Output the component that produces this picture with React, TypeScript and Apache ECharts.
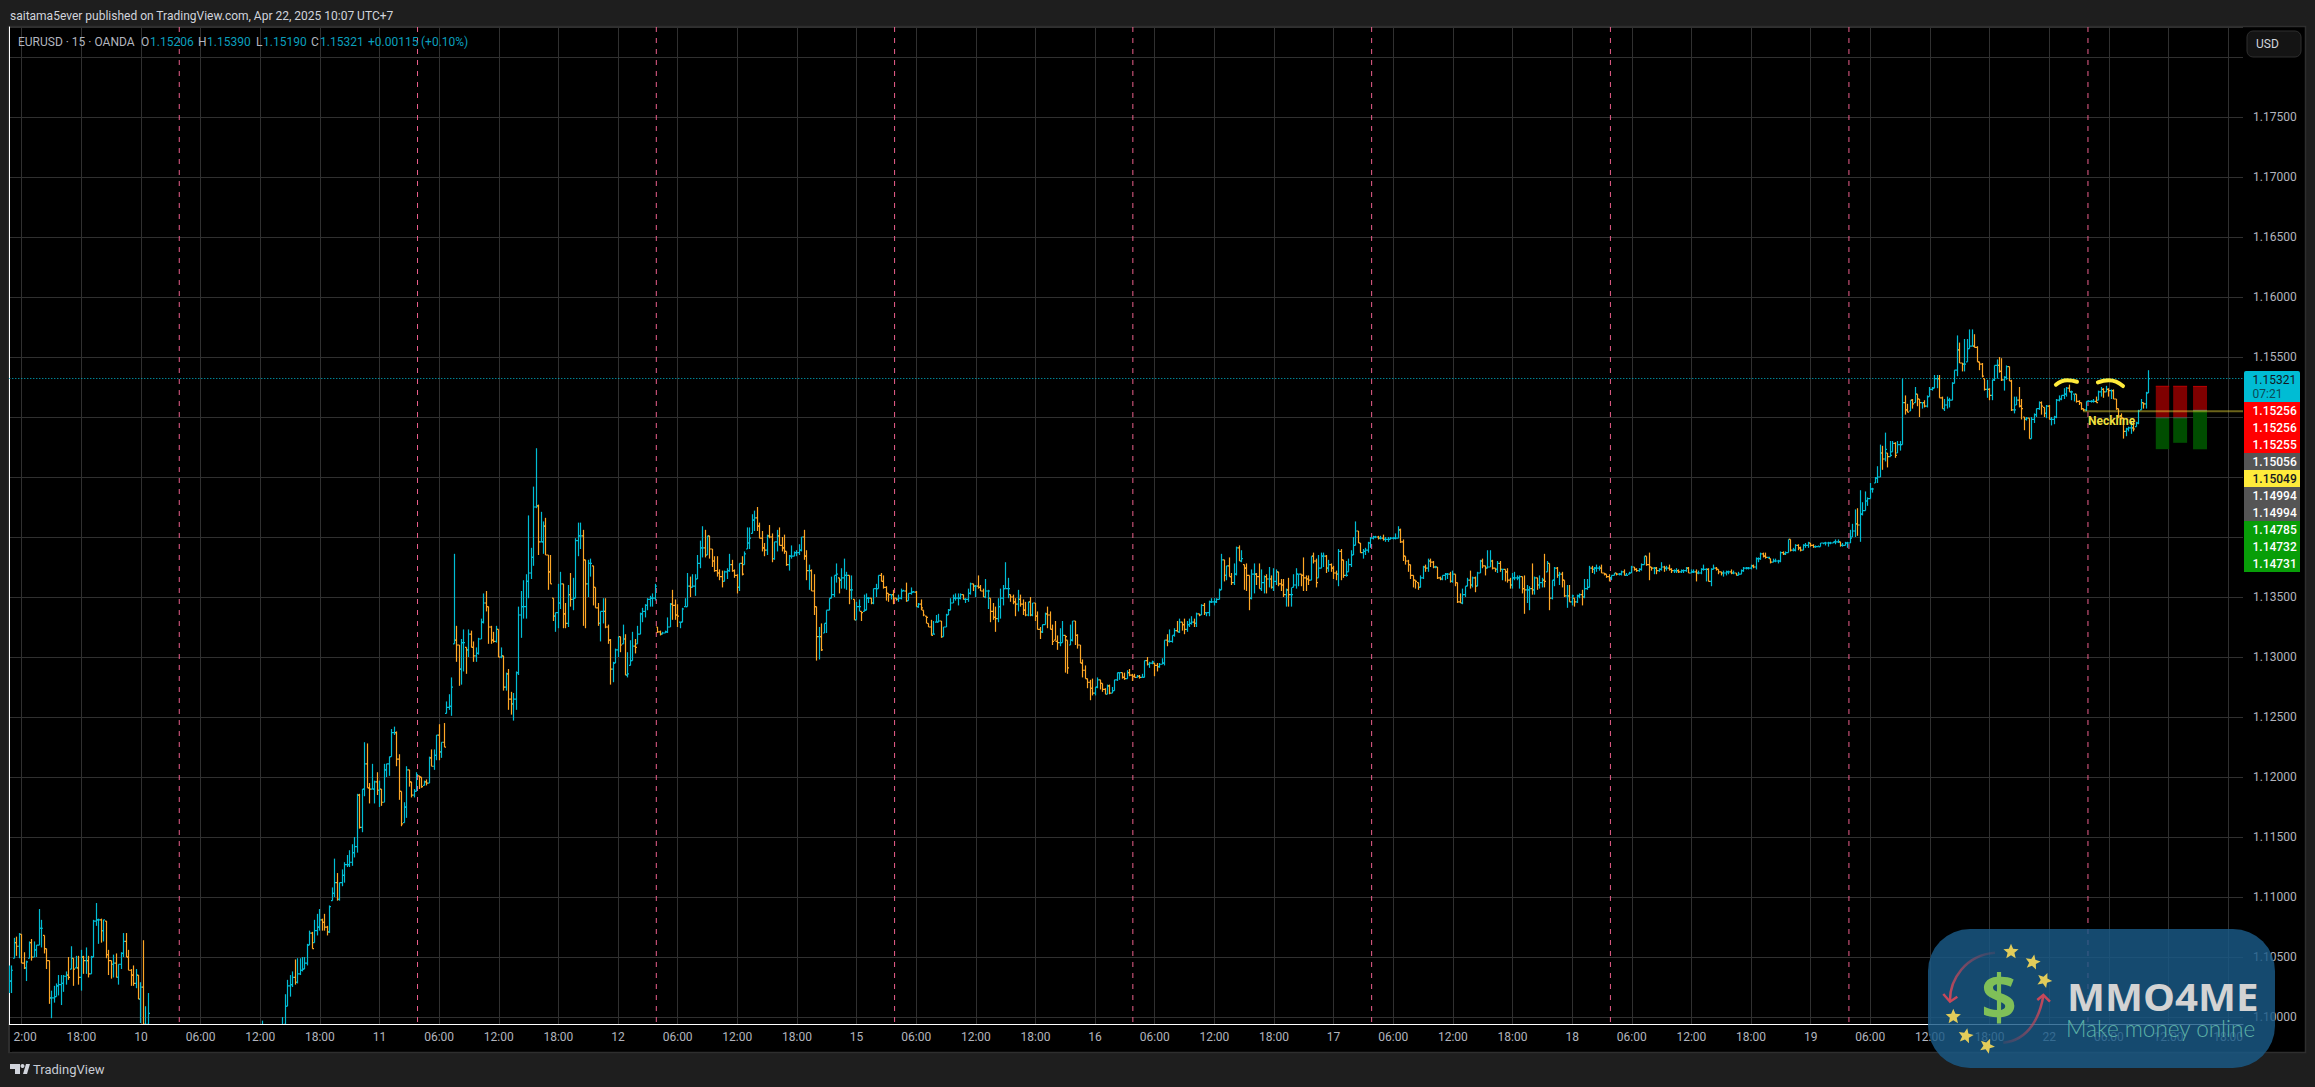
import React, { useEffect, useRef } from "react";
import * as echarts from "echarts";

// Prices are stored in pips above PIP_BASE. Bars are 15-minute OHLC.
const PIP_BASE = 1.1;
const N_CATS = 900;
const FIRST_TICK = 5;
const TICK_STEP = 24;

const tickLabels = ["12:00","18:00","10","06:00","12:00","18:00","11","06:00","12:00","18:00","12","06:00","12:00","18:00","15","06:00","12:00","18:00","16","06:00","12:00","18:00","17","06:00","12:00","18:00","18","06:00","12:00","18:00","19","06:00","12:00","18:00","22","06:00","12:00","18:00"];

// y-axis ticks whose labels are entirely hidden by the price tags or the USD button
const hiddenPriceLabels = ["1.18000", "1.15000", "1.14500", "1.14000"];

const sessionBreaks = [68.4, 164.3, 260.4, 356.3, 452.2, 548.3, 644.4, 740.4, 836.6];

const OFF_A = Array(45).fill(null); // bars below the visible pane
const OFF_B = Array(7).fill(null);

const highs = [
43,43,66,67,70,69,54,47,63,65,
63,60,90,81,68,57,47,22,26,28,
35,35,35,38,50,59,49,51,51,56,
51,58,51,51,81,95,82,82,81,80,
56,47,52,53,44,54,70,70,56,40,
43,40,35,29,64,9,20,
...OFF_A,-3,...OFF_B,0,
19,31,35,38,48,49,49,50,50,61,
72,71,81,86,90,82,86,76,93,
108,132,120,112,123,129,135,139,144,150,
186,186,190,229,228,195,211,197,204,197,
190,211,211,217,240,242,238,219,188,179,
209,206,196,190,204,201,200,197,198,217,
223,223,235,244,229,245,
263,269,283,386,326,310,315,323,308,323,
322,313,308,316,332,353,355,342,326,321,
326,323,308,301,287,290,271,270,288,342,
355,364,369,418,391,442,474,427,421,413,
416,385,385,349,337,361,371,361,345,360,
370,366,399,412,412,406,381,381,382,376,
358,345,338,349,349,327,315,296,307,317,
317,327,319,304,314,321,315,326,337,341,
344,349,351,353,361,325,322,321,322,333,
345,356,348,344,329,341,349,370,367,369,
369,385,397,409,406,401,401,390,384,384,
373,372,372,374,386,381,373,369,378,
384,388,408,408,419,422,425,412,405,395,
402,410,403,396,406,408,400,402,388,385,
393,388,389,394,400,406,389,377,373,369,
342,325,328,328,339,349,367,368,378,366,
374,382,371,368,368,348,346,348,338,352,
353,350,349,357,361,368,370,368,359,353,
352,356,349,352,357,356,362,353,358,355,
355,345,348,339,334,328,331,330,335,336,
330,325,336,340,349,352,353,353,353,352,
349,357,362,361,360,368,360,357,365,356,
349,345,342,349,357,360,379,366,352,352,
349,356,352,348,346,346,350,345,345,338,
325,327,337,342,338,327,330,318,324,330,
318,314,327,330,330,319,310,298,293,282,
281,282,275,283,281,278,274,277,277,275,
281,287,287,287,287,289,290,286,286,285,
285,286,297,300,296,297,295,295,295,299,
314,319,323,318,324,330,332,329,332,330,
332,334,332,337,336,344,345,337,347,349,
349,349,357,386,381,376,383,370,378,392,
393,389,377,378,368,373,378,370,378,373,
368,369,375,368,374,373,371,365,365,357,
366,358,369,374,369,369,383,368,368,384,
387,382,385,387,387,385,381,378,376,372,
390,390,381,380,382,389,400,413,405,395,
390,391,396,400,401,401,401,401,402,400,
400,400,400,403,409,407,398,384,381,377,
368,364,362,368,376,377,382,382,380,376,
375,367,368,370,370,371,372,369,362,353,
357,359,366,372,367,367,371,381,382,376,
389,389,381,374,380,380,373,373,374,366,
370,371,368,368,367,368,360,359,378,367,
366,368,366,386,380,378,364,375,375,371,
371,364,360,360,352,349,352,353,356,365,
365,376,376,375,377,376,377,370,369,369,
368,370,370,370,372,373,370,371,376,375,
374,374,378,384,384,387,375,375,375,374,
379,376,376,377,374,373,374,373,373,373,
375,375,373,373,373,372,374,377,374,374,
374,377,375,373,371,372,372,372,373,372,
370,371,373,375,375,375,377,377,383,383,
387,387,387,383,382,382,382,381,388,388,
388,398,398,391,394,394,392,394,395,396,
395,394,393,393,395,395,396,396,396,396,
398,398,396,395,396,396,
406,411,423,424,439,429,438,433,445,441,
450,459,477,476,487,470,480,480,479,480,
480,532,518,511,514,515,525,519,515,512,
514,518,525,525,535,535,535,517,515,517,
516,529,539,568,562,545,565,565,573,573,
569,559,546,545,532,531,524,531,543,548,
550,549,534,543,542,531,517,517,525,515,
500,500,499,500,503,507,513,513,508,510,
510,500,501,515,518,518,524,525,527,522,
519,519,514,512,507,513,514,514,515,517,
522,525,524,526,524,523,523,515,507,503,
499,491,492,496,496,496,506,515,512,521,539,
];

const lows = [
20,20,49,51,49,45,40,30,49,47,
50,50,60,58,53,40,11,-1,12,17,
18,10,21,27,31,40,26,41,27,22,
36,36,33,36,50,76,61,62,63,49,
35,32,33,33,27,40,50,50,39,26,
26,24,15,-5,-6,-6,-7,
...OFF_A,-30,...OFF_B,-25,
-6,9,17,25,27,28,35,38,40,43,
60,57,62,68,72,72,72,68,70,
97,100,97,97,109,112,125,125,126,133,
137,157,154,184,191,178,190,178,185,175,
176,179,200,201,217,235,209,181,159,162,
166,192,183,183,188,190,191,193,193,195,
209,206,214,214,216,225,
253,256,251,311,296,276,277,288,286,300,
308,296,296,302,315,328,338,311,311,312,
312,300,299,272,272,256,252,247,256,285,
316,332,332,349,365,376,424,385,396,386,
385,356,361,330,321,324,340,324,324,325,
342,339,349,384,390,326,324,350,367,343,
341,326,313,328,324,311,277,279,295,300,
304,311,285,283,293,297,303,311,319,329,
333,339,342,342,347,320,318,319,320,320,
325,331,331,325,324,329,342,342,350,358,
351,365,374,383,383,385,382,375,371,367,
364,358,363,365,371,371,366,353,355,
368,377,390,390,403,405,405,399,388,384,
385,399,379,381,388,393,388,386,376,372,
382,384,384,385,388,381,364,356,355,335,
297,298,305,320,320,339,349,350,362,353,
357,357,356,344,348,331,331,338,330,338,
339,345,344,344,350,357,363,357,347,346,
348,344,347,346,348,355,346,347,352,354,
342,341,339,334,328,325,318,319,329,329,
316,317,325,335,339,345,347,343,348,348,
345,346,352,355,350,357,355,350,349,340,
329,331,321,329,332,343,357,349,346,344,
334,338,342,335,334,334,334,334,330,323,
315,320,327,324,323,310,314,306,309,312,
287,286,310,313,310,307,295,283,282,274,
264,268,268,274,273,271,269,269,269,270,
272,280,281,282,281,282,284,280,283,283,
282,283,283,293,291,294,284,288,291,294,
293,309,312,312,317,321,320,322,319,321,
325,327,325,325,334,335,335,334,334,345,
343,345,348,356,363,364,367,360,360,368,
380,379,356,355,339,348,353,360,357,355,
353,353,358,357,355,360,359,355,350,342,
342,342,358,357,359,359,355,355,360,364,
378,358,366,374,375,370,371,371,365,364,
359,364,366,367,371,375,385,393,395,387,
382,385,387,391,398,399,398,398,397,396,
396,398,398,398,399,395,380,377,371,365,
358,357,356,358,365,371,371,375,374,374,
365,364,364,364,365,362,362,359,345,345,
344,350,359,357,358,354,359,370,374,368,
374,375,373,371,370,371,364,363,362,357,
357,364,364,357,353,336,345,339,352,352,
356,357,358,358,371,339,348,359,366,360,
358,350,341,346,343,342,345,349,343,349,
356,358,370,369,371,372,370,368,366,363,
364,368,368,368,368,368,368,369,370,372,
371,371,372,377,376,364,372,369,369,371,
372,371,372,372,370,370,370,370,370,370,
371,370,370,370,363,369,369,372,363,363,
359,373,372,369,368,367,368,369,369,369,
368,368,369,371,373,373,373,374,373,379,
381,383,382,382,378,379,379,378,379,385,
385,387,388,388,388,389,388,389,391,391,
392,391,391,392,392,394,393,392,394,395,
394,395,392,392,393,391,
395,400,400,401,396,418,422,426,432,437,
445,445,450,456,463,458,467,471,466,470,
472,477,502,504,505,507,512,509,500,507,
508,508,517,522,524,524,516,507,505,507,
508,514,528,534,545,538,538,546,557,559,
558,546,539,533,522,516,514,514,530,532,
537,530,522,531,530,505,503,510,508,498,
489,497,482,482,495,500,506,502,500,499,
498,493,494,499,513,514,515,517,521,514,
513,512,510,506,505,505,513,512,512,512,
514,517,516,521,517,515,515,506,499,498,
482,484,488,486,488,492,494,506,507,507,520,
];

const closes = [
30,39,62,59,69,45,41,46,62,50,
56,60,74,74,57,47,16,16,17,26,
27,28,34,35,33,49,40,41,33,50,
47,47,36,50,80,81,81,72,81,52,
47,44,45,33,44,53,63,50,39,35,
28,35,15,25,-6,-6,3,
...OFF_A,-12,...OFF_B,-8,
9,26,27,33,29,36,39,40,45,60,
70,57,72,75,81,79,75,71,92,
103,112,98,112,118,127,127,129,137,142,
185,158,190,211,191,190,190,196,189,190,
179,206,211,217,237,237,215,188,161,175,
206,196,185,188,202,200,192,196,195,216,
209,218,235,221,229,225,
258,259,275,314,310,290,312,312,306,319,
308,301,303,315,329,345,342,325,314,313,
323,300,301,275,286,265,261,265,287,335,
342,342,363,370,383,425,426,396,396,409,
385,371,361,334,337,345,361,336,328,352,
348,349,397,401,401,381,361,378,378,358,
341,328,338,338,325,314,290,295,306,317,
310,315,285,286,297,309,308,319,336,338,
343,348,349,349,359,321,319,320,321,325,
344,343,335,334,329,340,342,359,358,359,
365,378,391,391,385,401,390,380,372,370,
367,363,371,372,377,372,368,358,378,
369,386,395,399,414,416,409,399,391,389,
401,400,382,396,401,393,391,388,377,384,
384,387,387,389,400,384,372,372,355,342,
317,317,306,328,339,349,352,368,369,364,
366,368,368,356,356,331,342,342,337,339,
349,349,345,357,357,368,363,358,353,352,
352,349,348,349,355,355,347,353,354,354,
342,344,341,335,333,325,318,319,329,330,
317,325,335,339,345,349,349,349,352,348,
348,353,361,359,359,358,355,350,355,355,
338,333,332,342,349,357,357,357,350,346,
344,348,344,339,335,346,335,345,334,323,
321,327,336,335,323,313,313,312,312,318,
317,291,314,330,318,310,295,289,282,279,
274,270,275,281,278,273,269,276,270,272,
281,287,287,283,282,287,285,284,283,284,
283,283,297,294,295,296,293,292,294,295,
314,313,313,318,322,321,329,327,323,327,
328,329,328,336,335,343,337,337,346,346,
346,348,356,381,368,376,367,362,369,391,
380,382,374,368,349,369,369,367,357,362,
367,365,365,358,363,371,361,360,352,356,
352,352,360,369,369,368,366,365,364,384,
380,362,374,384,384,374,377,374,370,369,
388,381,368,368,377,385,393,405,395,387,
388,389,395,399,400,400,399,399,398,398,
398,399,399,399,406,396,384,380,377,368,
364,363,358,366,375,374,380,379,375,375,
366,365,368,369,369,363,369,362,346,345,
352,359,364,360,366,359,370,380,376,374,
375,380,374,373,378,373,373,371,364,360,
366,366,366,367,357,356,356,357,356,366,
360,362,364,363,378,349,364,374,368,369,
364,351,351,346,351,346,351,352,350,357,
358,374,373,374,374,374,370,369,367,366,
368,370,369,369,371,368,368,370,375,373,
372,373,377,384,377,375,374,374,372,373,
375,374,374,373,372,372,372,371,372,372,
374,370,371,371,370,370,373,373,373,363,
373,374,373,371,370,370,371,371,370,370,
368,369,372,374,374,374,376,375,382,382,
386,384,383,383,379,380,380,380,387,386,
387,398,389,389,393,391,389,393,393,395,
393,392,392,392,395,395,395,395,395,396,
396,396,393,393,395,395,
399,405,411,410,419,422,430,432,440,440,
449,450,470,465,473,467,468,478,468,477,
477,512,506,504,514,511,519,515,512,512,
509,517,523,524,532,532,516,507,510,514,
514,528,539,556,545,544,544,557,559,559,
558,546,544,534,523,523,518,531,543,543,
538,531,533,542,530,506,506,514,509,507,
498,499,482,498,502,507,512,509,503,509,
498,498,500,514,515,518,519,524,521,521,
519,513,512,507,506,513,513,513,513,512,
521,523,521,523,522,522,515,507,500,499,
488,490,491,491,490,495,505,512,511,520,532,
];

const lastPrice = 1.15321;
const necklinePrice = 1.15049;
const necklineStart = 834.6;
const arcLeft = [[823.7, 1.15269], [828.2, 1.15306], [832.2, 1.15294]];
const arcRight = [[840.6, 1.15289], [845, 1.15306], [850.7, 1.15258]];

const boxStart = [863.9, 870.9, 878.9];
const boxEnd = [869.3, 876.5, 884.5];
const boxTop = [1.15256, 1.15256, 1.15255];
const boxMid = [1.14994, 1.14994, 1.15056];
const boxBottom = [1.14732, 1.14785, 1.14731];

const tagTexts = ["1.15256", "1.15256", "1.15255", "1.15056", "1.15049", "1.14994", "1.14994", "1.14785", "1.14732", "1.14731"];
const tagFills = ["#ff0000", "#ff0000", "#ff0000", "#555555", "#ffeb3b", "#555555", "#555555", "#089e08", "#089e08", "#089e08"];
const tagInks = ["#ffffff", "#ffffff", "#ffffff", "#ffffff", "#131722", "#ffffff", "#ffffff", "#ffffff", "#ffffff", "#ffffff"];

const legendItems: [string, number, string][] = [
  ["EURUSD · 15 · OANDA", 18, "#b2b5be"],
  ["O", 141, "#b2b5be"], ["1.15206", 150, "#0a9fbd"],
  ["H", 198, "#b2b5be"], ["1.15390", 207, "#0a9fbd"],
  ["L", 256, "#b2b5be"], ["1.15190", 263, "#0a9fbd"],
  ["C", 311, "#b2b5be"], ["1.15321", 320, "#0a9fbd"],
  ["+0.00115", 368, "#0a9fbd"], ["(+0.10%)", 421, "#0a9fbd"],
];

const stars = [[2011, 951.7], [2032.7, 962.3], [2044.3, 980.3], [1953.3, 1016.7], [1965.7, 1036], [1987, 1046]];

const CYAN = "#00bcd4";
const ORANGE = "#ffa726";
const FONT = "Roboto";
const price = (v: number) => PIP_BASE + v / 10000;

function starPoints(cx: number, cy: number, r: number, rot: number) {
  const pts: number[][] = [];
  for (let k = 0; k < 10; k++) {
    const a = rot + (k * Math.PI) / 5 - Math.PI / 2;
    const q = k % 2 === 0 ? r : r * 0.45;
    pts.push([cx + q * Math.cos(a), cy + q * Math.sin(a)]);
  }
  return pts;
}

function buildOption() {
  const categories = Array.from({ length: N_CATS }, (_, i) => {
    const k = (i - FIRST_TICK) / TICK_STEP;
    return Number.isInteger(k) && tickLabels[k] ? tickLabels[k] : "";
  });
  const isTick = (i: number) => i >= FIRST_TICK && (i - FIRST_TICK) % TICK_STEP === 0;

  const barData: number[][] = [];
  closes.forEach((c, i) => {
    if (c === null || c === undefined) return;
    const prev = closes[i - 1];
    const h = highs[i];
    const l = lows[i];
    const o = prev === null || prev === undefined ? c : Math.min(h, Math.max(l, prev));
    barData.push([i, price(o), price(h), price(l), price(c)]);
  });

  const red = "#7f0000";
  const green = "#004d00";

  const graphicEls: any[] = [
    { type: "rect", z: -10, shape: { x: 8.5, y: 26.5, width: 2297, height: 1026 }, style: { fill: "#000", stroke: "#2e2e2e", lineWidth: 1.5 } },
    { type: "rect", z: 90, shape: { x: 0, y: 1024, width: 8, height: 30 }, style: { fill: "#1e1e1e" } },
    { type: "rect", z: 90, shape: { x: 8, y: 1025, width: 4, height: 27 }, style: { fill: "#000" } },
    { type: "rect", z: 91, shape: { x: 8, y: 1025, width: 2, height: 27 }, style: { fill: "#2e2e2e" } },
    { type: "text", z: 100, x: 10, y: 16, style: { text: "saitama5ever published on TradingView.com, Apr 22, 2025 10:07 UTC+7", fill: "#d1d4dc", font: `12px ${FONT}`, textVerticalAlign: "middle" } },
    { type: "rect", z: 96, shape: { x: 2247, y: 31, width: 54, height: 26, r: 6 }, style: { fill: "#141414", stroke: "#2e2e2e", lineWidth: 1 } },
    { type: "text", z: 100, x: 2256, y: 44, style: { text: "USD", fill: "#d1d4dc", font: `12px ${FONT}`, textVerticalAlign: "middle" } },
    { type: "rect", z: 97, shape: { x: 2244, y: 371, width: 56, height: 31, r: [2, 2, 0, 0] }, style: { fill: "#00bcd4" } },
    { type: "text", z: 100, x: 2252.5, y: 379.5, style: { text: "1.15321", fill: "#131722", font: `12px ${FONT}`, textVerticalAlign: "middle" } },
    { type: "text", z: 100, x: 2252.5, y: 393.5, style: { text: "07:21", fill: "#0b4a57", font: `12px ${FONT}`, textVerticalAlign: "middle" } },
  ];

  legendItems.forEach(([text, x, fill]) => {
    graphicEls.push({ type: "text", z: 100, x, y: 42, style: { text, fill, font: `12px ${FONT}`, textVerticalAlign: "middle" } });
  });

  tagTexts.forEach((text, i) => {
    const top = 402 + 17 * i;
    graphicEls.push({ type: "rect", z: 97, shape: { x: 2244, y: top, width: 56, height: 17 }, style: { fill: tagFills[i] } });
    graphicEls.push({ type: "text", z: 100, x: 2252.5, y: top + 8.5, style: { text, fill: tagInks[i], font: `500 12px ${FONT}`, textVerticalAlign: "middle" } });
  });

  // TradingView mark and name
  graphicEls.push(
    { type: "polygon", z: 100, shape: { points: [[10, 1064], [20, 1064], [20, 1074], [15, 1074], [15, 1069], [10, 1069]] }, style: { fill: "#d1d4dc" } },
    { type: "circle", z: 100, shape: { cx: 22.5, cy: 1066, r: 2 }, style: { fill: "#d1d4dc" } },
    { type: "polygon", z: 100, shape: { points: [[23, 1074], [26, 1064], [30, 1064], [27, 1074]] }, style: { fill: "#d1d4dc" } },
    { type: "text", z: 100, x: 33, y: 1069, style: { text: "TradingView", fill: "#c8ccd4", font: `13px ${FONT}`, textVerticalAlign: "middle" } },
  );

  // Watermark
  graphicEls.push(
    { type: "rect", z: 110, shape: { x: 1928, y: 929, width: 347, height: 139, r: 42 }, style: { fill: "rgba(26,90,135,0.82)" } },
    { type: "bezierCurve", z: 111, shape: { x1: 1995, y1: 952.7, x2: 1950, y2: 1000, cpx1: 1965, cpy1: 955, cpx2: 1950, cpy2: 980 }, style: { stroke: new echarts.graphic.LinearGradient(1, 0, 0, 1, [{ offset: 0, color: "rgba(200,72,90,0.15)" }, { offset: 1, color: "#c8485a" }]), lineWidth: 2.5, fill: "none" } },
    { type: "polyline", z: 111, shape: { points: [[1943.3, 994], [1950, 1001.7], [1957.3, 996.7]] }, style: { stroke: "#c8485a", lineWidth: 2.5, fill: "none" } },
    { type: "bezierCurve", z: 111, shape: { x1: 2003.3, y1: 1042.7, x2: 2043.3, y2: 996, cpx1: 2030, cpy1: 1040, cpx2: 2040, cpy2: 1015 }, style: { stroke: new echarts.graphic.LinearGradient(0, 1, 1, 0, [{ offset: 0, color: "rgba(200,72,90,0.15)" }, { offset: 1, color: "#c8485a" }]), lineWidth: 2.5, fill: "none" } },
    { type: "polyline", z: 111, shape: { points: [[2037.3, 1000], [2043.3, 995], [2050, 1001.7]] }, style: { stroke: "#c8485a", lineWidth: 2.5, fill: "none" } },
    { type: "text", z: 112, x: 1999, y: 996, style: { text: "$", font: `bold 62px 'Open Sans'`, textAlign: "center", textVerticalAlign: "middle", fill: "#7fbf58" } },
    { type: "text", z: 112, x: 2067, y: 996, scaleX: 1.06, style: { text: "MMO4ME", font: `bold 38px 'Open Sans'`, textVerticalAlign: "middle", fill: "#d3d3d3" } },
    { type: "text", z: 112, x: 2066, y: 1028, style: { text: "Make money online", font: `300 22.5px Lato`, textVerticalAlign: "middle", fill: "#5cb0a6" } },
  );
  stars.forEach(([cx, cy], i) => {
    graphicEls.push({ type: "polygon", z: 112, shape: { points: starPoints(cx, cy, 8, 0.2 * (i % 3)) }, style: { fill: "#e2cc5a" } });
  });

  return {
    animation: false,
    backgroundColor: "#1e1e1e",
    grid: { left: 9.3, top: 27, width: 2233.7, height: 997, show: true, backgroundColor: "#000", borderWidth: 0 },
    xAxis: [
      {
        type: "category",
        data: categories,
        boundaryGap: false,
        axisLine: { lineStyle: { color: "#ffffff", width: 1 } },
        axisTick: { show: false },
        splitLine: { show: true, interval: (i: number) => isTick(i), lineStyle: { color: "#303030", width: 1 } },
        axisLabel: { interval: (i: number) => isTick(i), color: "#b2b5be", fontFamily: FONT, fontSize: 12, margin: 7, hideOverlap: false },
      },
      { type: "value", min: 0, max: N_CATS - 1, show: false, position: "top", splitLine: { show: false } },
    ],
    yAxis: {
      type: "value",
      position: "right",
      min: 1.09942,
      max: 1.1825,
      splitNumber: 17,
      axisLine: { show: true, lineStyle: { color: "#ffffff", width: 1 } },
      axisTick: { show: false },
      splitLine: { show: true, lineStyle: { color: "#303030", width: 1 } },
      axisLabel: {
        color: "#b2b5be", fontFamily: FONT, fontSize: 12, margin: 10, showMinLabel: false, showMaxLabel: false,
        formatter: (v: number) => (hiddenPriceLabels.includes(v.toFixed(5)) ? "" : v.toFixed(5)),
      },
    },
    graphic: { elements: graphicEls },
    series: [
      {
        type: "custom", name: "sessions", xAxisIndex: 1, silent: true, clip: true, z: 3,
        data: sessionBreaks.map((v) => [v]), encode: { x: 0 },
        renderItem: (_: any, api: any) => {
          const a = api.coord([api.value(0), 1.1825]);
          const b = api.coord([api.value(0), 1.09955]);
          return { type: "line", shape: { x1: a[0], y1: a[1], x2: b[0], y2: b[1] }, style: { stroke: "#ec5f8c", lineWidth: 1, lineDash: [5, 6] } };
        },
      },
      {
        type: "custom", name: "last", xAxisIndex: 1, silent: true, clip: true, z: 3,
        data: [[lastPrice]], encode: { y: 0 },
        renderItem: (_: any, api: any) => {
          const a = api.coord([0, api.value(0)]);
          const b = api.coord([N_CATS - 1, api.value(0)]);
          return { type: "line", shape: { x1: a[0], y1: a[1], x2: b[0], y2: b[1] }, style: { stroke: CYAN, lineWidth: 1, lineDash: [1, 2] } };
        },
      },
      {
        type: "custom", name: "boxes", xAxisIndex: 1, silent: true, clip: true, z: 3,
        data: boxStart.map((s, i) => [s, boxEnd[i], boxTop[i], boxMid[i], boxBottom[i]]),
        encode: { x: [0, 1], y: [2, 3, 4] },
        renderItem: (_: any, api: any) => {
          const tl = api.coord([api.value(0), api.value(2)]);
          const m = api.coord([api.value(1), api.value(3)]);
          const b = api.coord([api.value(1), api.value(4)]);
          const w = m[0] - tl[0];
          return {
            type: "group",
            children: [
              { type: "rect", shape: { x: tl[0], y: tl[1], width: w, height: m[1] - tl[1] }, style: { fill: red } },
              { type: "rect", shape: { x: tl[0], y: m[1], width: w, height: b[1] - m[1] }, style: { fill: green } },
              { type: "line", shape: { x1: tl[0], y1: tl[1], x2: m[0], y2: tl[1] }, style: { stroke: "#c00000", lineWidth: 1 } },
              { type: "line", shape: { x1: tl[0], y1: m[1], x2: m[0], y2: m[1] }, style: { stroke: "#555555", lineWidth: 1 } },
            ],
          };
        },
      },
      {
        type: "custom", name: "bars", xAxisIndex: 0, silent: true, clip: true, z: 4,
        data: barData, encode: { x: 0, y: [1, 2, 3, 4] },
        renderItem: (_: any, api: any) => {
          const i = api.value(0);
          const o = api.value(1);
          const c = api.value(4);
          const px = Math.floor(api.coord([i, o])[0]) + 0.5;
          const yo = api.coord([i, o])[1];
          const yh = api.coord([i, api.value(2)])[1];
          const yl = api.coord([i, api.value(3)])[1];
          const yc = api.coord([i, c])[1];
          const stroke = c >= o ? CYAN : ORANGE;
          const style = { stroke, lineWidth: 1.2 };
          return {
            type: "group",
            children: [
              { type: "line", shape: { x1: px, y1: yh, x2: px, y2: yl }, style },
              { type: "line", shape: { x1: px - 1.5, y1: yo, x2: px, y2: yo }, style },
              { type: "line", shape: { x1: px, y1: yc, x2: px + 1.5, y2: yc }, style },
            ],
          };
        },
      },
      {
        type: "custom", name: "neckline", xAxisIndex: 1, silent: true, clip: true, z: 5,
        data: [[necklineStart, necklinePrice]], encode: { x: 0, y: 1 },
        renderItem: (_: any, api: any) => {
          const a = api.coord([api.value(0), api.value(1)]);
          const b = api.coord([N_CATS - 1, api.value(1)]);
          const t = api.coord([api.value(0) + 2, api.value(1) - 0.0008]);
          return {
            type: "group",
            children: [
              { type: "line", shape: { x1: a[0], y1: a[1], x2: b[0], y2: b[1] }, style: { stroke: "rgba(255,235,59,0.42)", lineWidth: 2 } },
              { type: "text", x: t[0], y: t[1], style: { text: "Neckline", fill: "#f0e040", font: `bold 12px ${FONT}`, textVerticalAlign: "middle" } },
            ],
          };
        },
      },
      {
        type: "line", name: "topLeft", xAxisIndex: 1, data: arcLeft, smooth: true, symbol: "none", silent: true, z: 6,
        lineStyle: { color: "#ffeb3b", width: 4, cap: "round" },
      },
      {
        type: "line", name: "topRight", xAxisIndex: 1, data: arcRight, smooth: true, symbol: "none", silent: true, z: 6,
        lineStyle: { color: "#ffeb3b", width: 4, cap: "round" },
      },
    ],
  };
}

export default function App() {
  const ref = useRef<HTMLDivElement>(null);
  useEffect(() => {
    document.body.style.margin = "0";
    document.body.style.background = "#1e1e1e";
    const chart = echarts.init(ref.current!, undefined, { renderer: "svg" });
    chart.setOption(buildOption() as any);
    return () => chart.dispose();
  }, []);
  return <div ref={ref} style={{ width: 2315, height: 1087 }} />;
}
